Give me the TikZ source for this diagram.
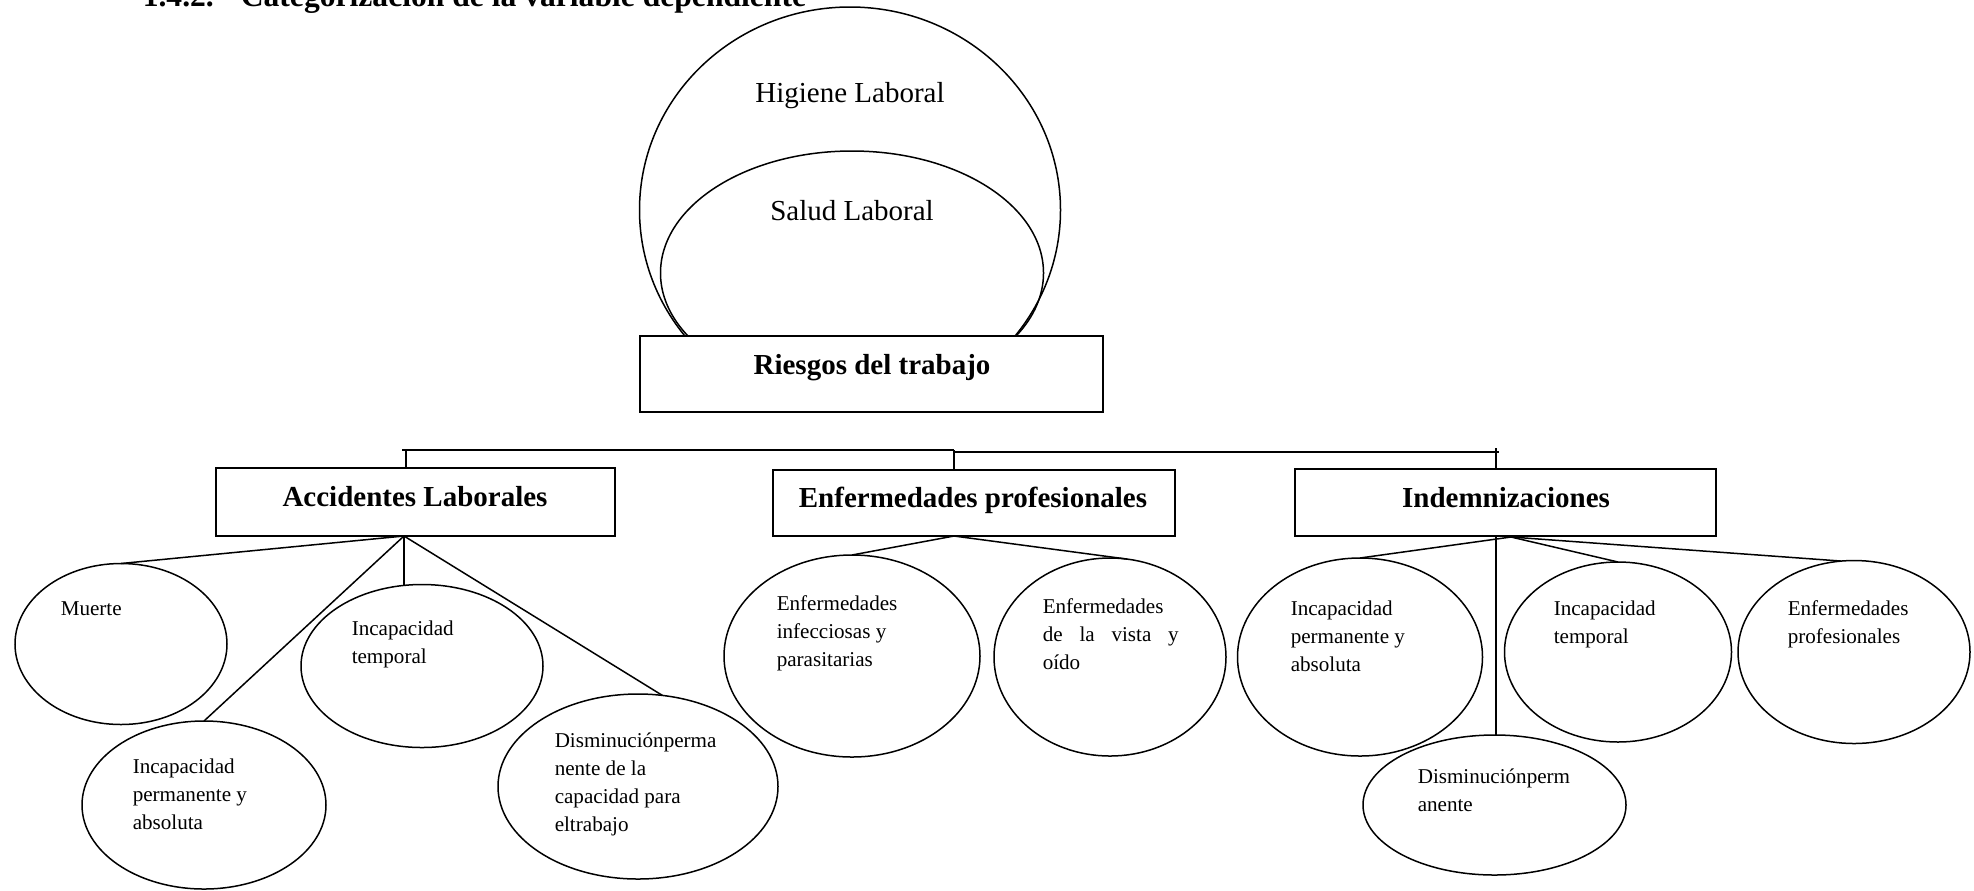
\documentclass[tikz,border=0pt]{standalone}
\usepackage{fontspec}
\setmainfont{Liberation Serif}
\usetikzlibrary{shapes.geometric}
\newcommand{\ml}[1]{\begin{tabular}[t]{@{}l@{}}#1\end{tabular}}
\begin{document}
\begin{tikzpicture}[x=0.5pt,y=-0.5pt,
  line width=0.75pt,
  ell/.style={draw, ellipse, inner sep=0pt, outer sep=0pt},
  box/.style={draw, rectangle, line width=1pt, inner sep=0pt, outer sep=0pt},
  big/.style={font=\fontsize{14.5}{17}\selectfont, inner sep=0pt, anchor=base},
  bigb/.style={font=\fontsize{14.5}{17}\selectfont\bfseries, inner sep=0pt, anchor=base},
  sm/.style={font=\fontsize{10.55}{14}\selectfont, inner sep=0pt, anchor=base west},
  ttlstyle/.style={font=\fontsize{15.8}{18}\selectfont\bfseries, inner sep=0pt, anchor=base west},
  conn/.style={line width=0.75pt}
]
\useasboundingbox (0,0) rectangle (1974,890);
\clip (0,0) rectangle (1974,890);

% title (cut off at the top, as in the reference)
\node[ttlstyle] (ttl) at (142,6.5) {1.4.2.\hspace{13.5pt}Categorización de la variable dependiente};

% top ellipses, cut by the box
\begin{scope}
  \clip (0,0) rectangle (1974,336);
  \node[ell, minimum width=210.5pt, minimum height=203pt] (hig) at (850,210) {};
  \node[ell, minimum width=191.5pt, minimum height=122pt] (sal) at (852,273) {};
\end{scope}
\node[big] (higt) at (850,102) {Higiene Laboral};
\node[big] (salt) at (852,220) {Salud Laboral};

% root box
\node[box, minimum width=231.5pt, minimum height=38pt] (rie) at (871.5,374) {};
\node[bigb] (riet) at (872,374) {Riesgos del trabajo};

% second level boxes
\node[box, minimum width=199.5pt, minimum height=34pt] (acc) at (415.5,502) {};
\node[bigb] (acct) at (415,506) {Accidentes Laborales};
\node[box, minimum width=201pt, minimum height=33pt] (enf) at (974,503) {};
\node[bigb] (enft) at (973,507) {Enfermedades profesionales};
\node[box, minimum width=210.5pt, minimum height=33.5pt] (ind) at (1505.5,502.5) {};
\node[bigb] (indt) at (1506,507) {Indemnizaciones};

% bracket
\coordinate (bl) at (402,450);
\coordinate (bm) at (954,450);
\coordinate (bm2) at (954,452);
\coordinate (br) at (1499,452);
\coordinate (va) at (406,450);
\coordinate (vc) at (1496,448);
\draw[conn] (bl) -- (bm);
\draw[conn] (bm2) -- (br);
\draw[conn] (va) -- (va |- acc.north);
\draw[conn] (bm) -- (bm |- enf.north);
\draw[conn] (vc) -- (vc |- ind.north);

% Accidentes children
\node[ell, minimum width=106pt, minimum height=80.5pt] (mu) at (121,644) {};
\node[ell, minimum width=122pt, minimum height=84pt] (ipa) at (204,805) {};
\node[ell, minimum width=121pt, minimum height=81.5pt] (it) at (422,666) {};
\node[ell, minimum width=140pt, minimum height=92.5pt] (dm) at (638,786.5) {};
\node[sm] (mut) at (60,615) {\ml{Muerte}};
\node[sm] (ipat) at (132,773) {\ml{Incapacidad\\permanente y\\absoluta}};
\node[sm] (itt) at (351,635) {\ml{Incapacidad\\temporal}};
\node[sm] (dmt) at (554,747) {\ml{Disminuciónperma\\nente de la\\capacidad para\\eltrabajo}};
\coordinate (ab) at (404,536);
\draw[conn] (ab) -- (mu.north);
\draw[conn] (ab) -- (ipa.north);
\draw[conn] (ab) -- (ab |- it.north);
\draw[conn] (ab) -- (dm.75);

% Enfermedades children
\node[ell, minimum width=128pt, minimum height=101pt] (inf) at (852,656) {};
\node[ell, minimum width=116pt, minimum height=99pt] (vis) at (1110,657) {};
\node[sm] (inft) at (776,610) {\ml{Enfermedades\\infecciosas y\\parasitarias}};
\node[sm] (vist) at (1042,613) {\ml{Enfermedades\\\makebox[68pt][s]{de la vista y}\\oído}};
\coordinate (eb) at (954,536);
\draw[conn] (eb) -- (inf.north);
\draw[conn] (eb) -- (vis.80);

% Indemnizaciones children
\node[ell, minimum width=122.5pt, minimum height=99pt] (ipb) at (1360,657) {};
\node[ell, minimum width=113.5pt, minimum height=90pt] (itb) at (1618,652) {};
\node[ell, minimum width=116pt, minimum height=91.5pt] (epb) at (1854,652) {};
\node[ell, minimum width=131.5pt, minimum height=70pt] (dpb) at (1494.5,805) {};
\node[sm] (ipbt) at (1290,615) {\ml{Incapacidad\\permanente y\\absoluta}};
\node[sm] (itbt) at (1553,615) {\ml{Incapacidad\\temporal}};
\node[sm] (epbt) at (1787,615) {\ml{Enfermedades\\profesionales}};
\node[sm] (dpbt) at (1417,783) {\ml{Disminuciónperm\\anente}};
\coordinate (ib) at (1511,537);
\coordinate (ib2) at (1496,536);
\draw[conn] (ib) -- (ipb.north);
\draw[conn] (ib) -- (itb.north);
\draw[conn] (ib) -- (epb.98);
\draw[conn] (ib2) -- (ib2 |- dpb.north);
\end{tikzpicture}
\end{document}
